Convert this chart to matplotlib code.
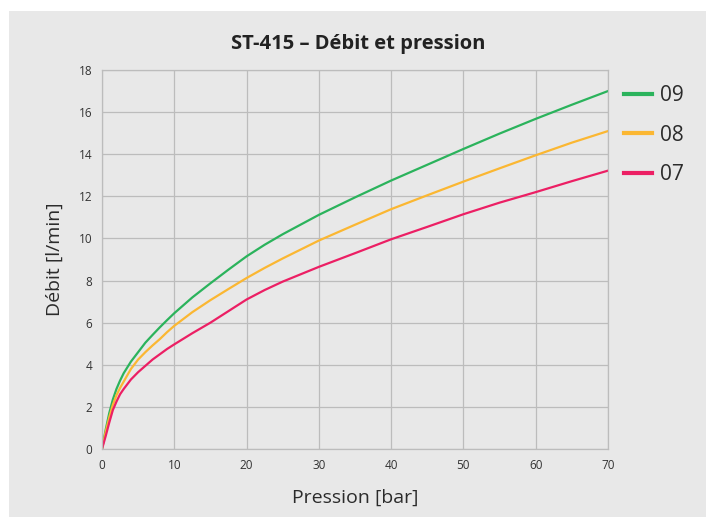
import matplotlib
matplotlib.use("Agg")
import matplotlib.pyplot as plt
from matplotlib.patches import Rectangle

plt.rcParams['font.family'] = ['Open Sans', 'DejaVu Sans']

# pressure [bar]
pression = [0, 0.5, 1, 1.5, 2, 2.5, 3, 4, 5, 6, 7, 8, 9, 10, 12.5, 15, 17.5, 20, 22.5, 25,
            30, 35, 40, 45, 50, 55, 60, 65, 70]

# flow [l/min] per nozzle
debit_09 = [0, 0.9, 1.7, 2.35, 2.85, 3.25, 3.6, 4.15, 4.6, 5.05, 5.42, 5.78, 6.12, 6.45,
            7.2, 7.87, 8.52, 9.15, 9.7, 10.2, 11.12, 11.95, 12.75, 13.5, 14.25, 14.98,
            15.68, 16.35, 17.0]
debit_08 = [0, 0.8, 1.5, 2.1, 2.55, 2.9, 3.2, 3.8, 4.25, 4.6, 4.92, 5.22, 5.55, 5.85,
            6.5, 7.07, 7.6, 8.12, 8.6, 9.05, 9.9, 10.65, 11.39, 12.05, 12.7, 13.33,
            13.95, 14.55, 15.1]
debit_07 = [0, 0.6, 1.25, 1.85, 2.25, 2.6, 2.85, 3.3, 3.65, 3.95, 4.25, 4.5, 4.75, 4.97,
            5.5, 6.0, 6.55, 7.1, 7.55, 7.95, 8.65, 9.3, 9.96, 10.55, 11.15, 11.7,
            12.2, 12.72, 13.22]

series = [('09', debit_09, '#2bb35c'),
          ('08', debit_08, '#fbb732'),
          ('07', debit_07, '#ec1f64')]

bg = '#e8e8e8'
grid = '#bcbcbc'

fig = plt.figure(figsize=(7.06, 5.17), dpi=100, facecolor='white')
fig.patches.append(Rectangle((9 / 706, 0), 1, 1 - 11 / 517, transform=fig.transFigure,
                             facecolor=bg, edgecolor='none', zorder=-10))

ax = fig.add_axes([102 / 706, 1 - 449 / 517, 506 / 706, 379 / 517])
ax.set_facecolor(bg)

for name, vals, col in series:
    ax.plot(pression, vals, color=col, lw=1.6, label=name, solid_joinstyle='round')

ax.set_xlim(0, 70)
ax.set_ylim(0, 18)
ax.set_xticks(range(0, 71, 10))
ax.set_yticks(range(0, 19, 2))
ax.grid(True, color=grid, lw=0.9)
ax.set_axisbelow(True)
for s in ax.spines.values():
    s.set_color(grid)
    s.set_linewidth(0.9)
ax.tick_params(length=0, labelsize=8.5, colors='#333333', pad=7)

ax.set_xlabel('Pression [bar]', fontsize=14, color='#2b2b2b', labelpad=12)
ax.set_ylabel('Débit [l/min]', fontsize=14, color='#2b2b2b', labelpad=11)
fig.text(358 / 706, 1 - 44 / 517, 'ST-415 – Débit et pression', fontsize=14.5,
         fontweight='bold', color='#222222', ha='center', va='center')

leg = fig.legend(loc='upper left', bbox_to_anchor=(624 / 706, 1 - 85 / 517), frameon=False,
                 fontsize=15, handlelength=1.35, handletextpad=0.4, labelspacing=0.9,
                 borderaxespad=0, borderpad=0)
for t in leg.get_texts():
    t.set_color('#2b2b2b')
for h in leg.get_lines():
    h.set_linewidth(3)

fig.savefig('out.png', dpi=100, facecolor='white')
